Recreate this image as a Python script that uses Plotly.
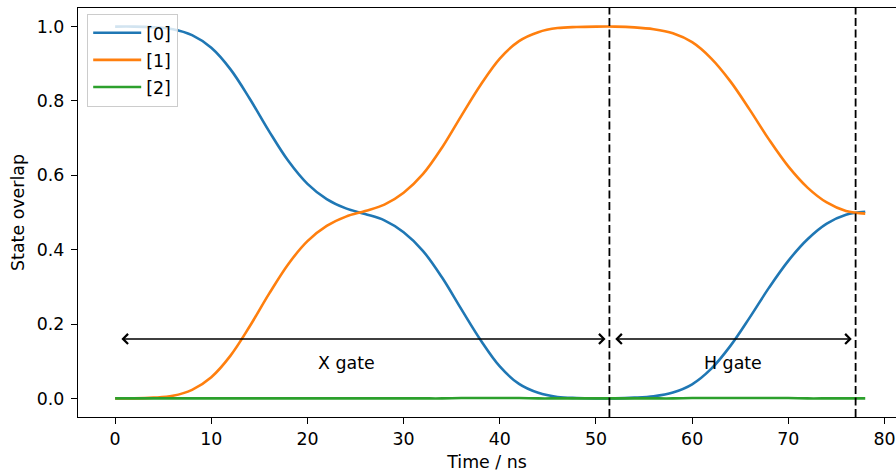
import plotly.graph_objects as go

# ---- data ----
time_ns = [0, 2, 4, 6, 8, 10, 12, 14, 16, 18, 20, 22, 24, 26, 28, 30, 32, 34, 36, 38,
           40, 42, 44, 46, 48, 50, 52, 54, 56, 58, 60, 62, 64, 66, 68, 70, 72, 74, 76, 78]

pop_0 = [1.000, 1.000, 0.998, 0.993, 0.977, 0.943, 0.885, 0.806, 0.719, 0.639,
         0.577, 0.536, 0.511, 0.496, 0.479, 0.447, 0.397, 0.325, 0.240, 0.157,
         0.086, 0.039, 0.015, 0.004, 0.001, 0.000, 0.000, 0.002, 0.006, 0.016,
         0.038, 0.080, 0.142, 0.218, 0.298, 0.370, 0.428, 0.470, 0.494, 0.502]

pop_1 = [0.000, 0.000, 0.002, 0.007, 0.023, 0.057, 0.115, 0.194, 0.281, 0.361,
         0.423, 0.464, 0.489, 0.504, 0.521, 0.553, 0.603, 0.675, 0.760, 0.843,
         0.914, 0.961, 0.985, 0.996, 0.999, 1.000, 1.000, 0.998, 0.993, 0.982,
         0.958, 0.914, 0.852, 0.776, 0.696, 0.624, 0.567, 0.527, 0.504, 0.497]

pop_2 = [0.000, 0.000, 0.000, 0.000, 0.000, 0.000, 0.000, 0.000, 0.000, 0.000,
         0.000, 0.000, 0.000, 0.000, 0.000, 0.000, 0.000, 0.000, 0.001, 0.001,
         0.001, 0.001, 0.000, 0.000, 0.000, 0.000, 0.000, 0.000, 0.000, 0.000,
         0.001, 0.001, 0.001, 0.001, 0.001, 0.001, 0.000, 0.000, 0.000, 0.000]

series_names = ["[0]", "[1]", "[2]"]
series_colors = ["#1f77b4", "#ff7f0e", "#2ca02c"]

gate_bounds = [51.4, 77.0]
gate_labels = ["X gate", "H gate"]
arrow_starts = [0.5, 51.85]
arrow_ends = [51.0, 76.6]
arrow_y = 0.16
label_x = [24.1, 64.2]
label_y = 0.095

x_ticks = [0, 10, 20, 30, 40, 50, 60, 70, 80]
y_ticks = [0.0, 0.2, 0.4, 0.6, 0.8, 1.0]

FONT = "DejaVu Sans"
FS = 17.4

fig = go.Figure()
for name, vals, col in zip(series_names, [pop_0, pop_1, pop_2], series_colors):
    fig.add_trace(go.Scatter(
        x=time_ns, y=vals, mode="lines", name=name, legendgroup=name,
        line=dict(color=col, width=2.6, shape="spline", smoothing=1.0),
    ))

shapes = []
for gb in gate_bounds:
    shapes.append(dict(type="line", xref="x", yref="paper", x0=gb, x1=gb, y0=0, y1=1,
                       line=dict(color="black", width=1.8, dash="8px,3.5px"), layer="above"))

annotations = []
for xs, xe in zip(arrow_starts, arrow_ends):
    annotations.append(dict(
        x=xe, y=arrow_y, ax=xs, ay=arrow_y, xref="x", yref="y", axref="x", ayref="y",
        text="", showarrow=True, arrowhead=4, startarrowhead=4, arrowside="end+start",
        arrowsize=1.3, startarrowsize=1.3, arrowwidth=1.5, arrowcolor="black",
        standoff=0, startstandoff=0))
for lx, lab in zip(label_x, gate_labels):
    annotations.append(dict(x=lx, y=label_y, xref="x", yref="y", text=lab, showarrow=False,
                            font=dict(family=FONT, size=FS, color="black"),
                            xanchor="center", yanchor="middle"))

fig.update_layout(
    width=896, height=472,
    margin=dict(l=78, r=0, t=8, b=55, autoexpand=False),
    paper_bgcolor="white", plot_bgcolor="white",
    font=dict(family=FONT, size=FS, color="black"),
    shapes=shapes, annotations=annotations,
    showlegend=True,
    legend=dict(x=0.011, y=0.986, xanchor="left", yanchor="top",
                bgcolor="rgba(255,255,255,0.8)", bordercolor="#cccccc", borderwidth=1.2,
                font=dict(family=FONT, size=FS, color="black"),
                tracegroupgap=1.5, itemwidth=48),
    xaxis=dict(range=[-3.86, 81.2], tickvals=x_ticks, ticks="outside", ticklen=6,
               tickwidth=1.4, tickcolor="black", showline=True, linecolor="black",
               linewidth=1.4, mirror=True, showgrid=False, zeroline=False,
               title=dict(text="Time / ns", standoff=8, font=dict(family=FONT, size=FS))),
    yaxis=dict(range=[-0.05, 1.05], tickvals=y_ticks, tickformat=".1f", ticks="outside",
               ticklen=6, tickwidth=1.4, tickcolor="black", showline=True, linecolor="black",
               linewidth=1.4, showgrid=False, zeroline=False, ticklabelstandoff=3,
               title=dict(text="State overlap", standoff=7, font=dict(family=FONT, size=FS))),
)

fig.write_html("out.html",
               config={"displayModeBar": False},
               post_script="document.body.style.margin='0';document.body.style.overflow='hidden';")
